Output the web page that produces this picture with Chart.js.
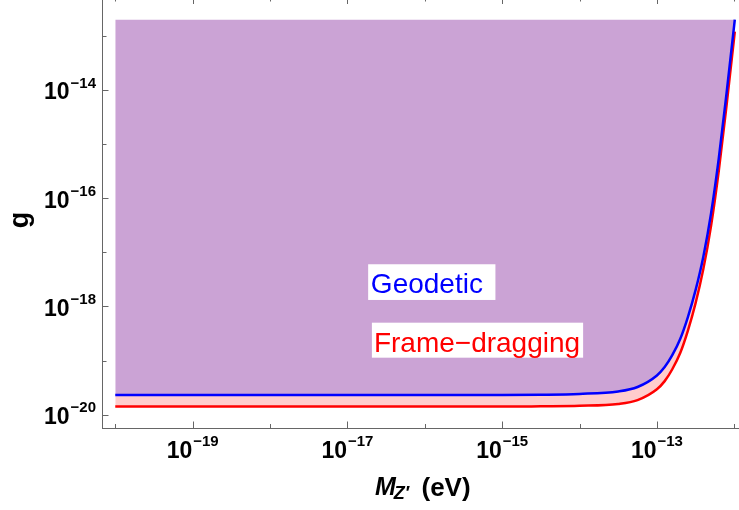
<!DOCTYPE html>
<html>
<head>
<meta charset="utf-8">
<script src="https://cdn.jsdelivr.net/npm/chart.js@4.4.1/dist/chart.umd.min.js"></script>
<style>
  html, body { margin: 0; padding: 0; background: #ffffff; }
  canvas { display: block; }
</style>
</head>
<body>
<canvas id="c" width="739" height="510"></canvas>
<script>
// Z' mass (eV) at which each bound is sampled
const massEV = [1e-20, 1e-17, 1e-15, 3.16e-15, 1e-14, 3.16e-14, 5.62e-14, 1e-13, 1.26e-13,
  1.58e-13, 2e-13, 2.51e-13, 3.16e-13, 3.98e-13, 5.01e-13, 6.31e-13, 7.94e-13, 1e-12, 1.015e-12];
// coupling bound from geodetic precession
const gGeodetic = [2.31e-20, 2.31e-20, 2.32e-20, 2.34e-20, 2.42e-20, 2.69e-20, 3.25e-20, 5.31e-20, 7.59e-20,
  1.26e-19, 2.51e-19, 6.31e-19, 2.00e-18, 8.32e-18, 5.25e-17, 5.50e-16, 8.71e-15, 1.63e-13, 2e-13];
// coupling bound from frame dragging
const gFrameDragging = [1.41e-20, 1.41e-20, 1.41e-20, 1.43e-20, 1.46e-20, 1.58e-20, 1.86e-20, 2.95e-20, 4.17e-20,
  6.92e-20, 1.38e-19, 3.55e-19, 1.15e-18, 4.90e-18, 3.09e-17, 3.24e-16, 5.13e-15, 9.77e-14, 1.20e-13];
// upper edge of the shaded excluded region
const regionTop = 2e-13;

// tick decades (all get a mark, the listed ones get a label)
const xTickExponents = [-20, -19, -18, -17, -16, -15, -14, -13, -12];
const xLabelExponents = [-19, -17, -15, -13];
const yTickExponents = [-20, -19, -18, -17, -16, -15, -14, -13];
const yLabelExponents = [-20, -18, -16, -14];

const seriesNames = ['Geodetic', 'Frame\u2212dragging'];

const FONT = '"Liberation Sans", Arial, sans-serif';
const AXIS_COLOR = '#666666';
const BLUE = '#0000ff';
const RED = '#ff0000';
const PURPLE = '#cba3d5';
const PINK = '#ffcccc';

function toPoints(xs, ys) {
  return xs.map((x, i) => ({ x: x, y: ys[i] }));
}

function drawPower(ctx, exp, x, baseY, supY, align) {
  const baseFont = 'bold 23px ' + FONT;
  const supFont = 'bold 15px ' + FONT;
  const base = '10';
  const sup = '\u2212' + Math.abs(exp);
  ctx.font = baseFont;
  const wb = ctx.measureText(base).width;
  ctx.font = supFont;
  const ws = ctx.measureText(sup).width + 1;
  let start;
  if (align === 'center') start = x - (wb + ws) / 2;
  else start = x - (wb + ws);
  ctx.textAlign = 'left';
  ctx.textBaseline = 'alphabetic';
  ctx.font = baseFont;
  ctx.fillText(base, start, baseY);
  ctx.font = supFont;
  ctx.fillText(sup, start + wb + 1, supY);
}

const frameAndLabels = {
  id: 'frameAndLabels',
  afterDraw(chart) {
    const { ctx, chartArea: a, scales } = chart;
    const xs = scales.x, ys = scales.y;
    ctx.save();
    ctx.strokeStyle = AXIS_COLOR;
    ctx.lineWidth = 1;
    const seg = (x1, y1, x2, y2) => {
      ctx.beginPath(); ctx.moveTo(x1, y1); ctx.lineTo(x2, y2); ctx.stroke();
    };
    // inward tick marks on the bottom and top frame
    xTickExponents.forEach(k => {
      const px = Math.round(xs.getPixelForValue(Math.pow(10, k))) + 0.5;
      const len = xLabelExponents.includes(k) ? 6.5 : 4;
      seg(px, a.bottom, px, a.bottom - len);
      seg(px, a.top - 2.5, px, a.top - 2.5 + len);
    });
    // inward tick marks on the left frame
    yTickExponents.forEach(k => {
      const py = Math.round(ys.getPixelForValue(Math.pow(10, k))) + 0.5;
      const len = yLabelExponents.includes(k) ? 6 : 4;
      seg(a.left, py, a.left + len, py);
    });
    // tick labels
    ctx.fillStyle = '#000000';
    xLabelExponents.forEach(k => {
      const px = xs.getPixelForValue(Math.pow(10, k));
      drawPower(ctx, k, px, a.bottom + 29.5, a.bottom + 17.5, 'center');
    });
    yLabelExponents.forEach(k => {
      const py = ys.getPixelForValue(Math.pow(10, k));
      drawPower(ctx, k, a.left - 6.5, py + 9.3, py - 2.4, 'right');
    });
    // x axis title: M_Z' (eV)
    ctx.textAlign = 'left';
    ctx.textBaseline = 'alphabetic';
    ctx.font = 'italic bold 25px ' + FONT;
    const mStart = 375;
    ctx.fillText('M', mStart, a.bottom + 67);
    const wm = ctx.measureText('M').width;
    ctx.font = 'italic bold 18px ' + FONT;
    ctx.fillText('Z\u2032', mStart + wm - 2, a.bottom + 70.5);
    ctx.font = 'bold 26px ' + FONT;
    ctx.fillText('(eV)', 421.5, a.bottom + 67.5);
    // y axis title: g
    ctx.save();
    ctx.translate(28, (a.top + a.bottom) / 2 + 6);
    ctx.rotate(-Math.PI / 2);
    ctx.font = 'bold 27px ' + FONT;
    ctx.textAlign = 'center';
    ctx.fillText('g', 0, 0);
    ctx.restore();
    ctx.restore();
  },
  afterDatasetsDraw(chart) {
    const { ctx, scales } = chart;
    const xs = scales.x, ys = scales.y;
    const boxes = [
      { text: seriesNames[0], color: BLUE, m: 2.01e-17, g: 1.8e-18, padL: 2.7, padR: 12.5, up: 28.4, down: 7.3 },
      { text: seriesNames[1], color: RED, m: 2.2e-17, g: 1.46e-19, padL: 2, padR: 3, up: 29, down: 6 }
    ];
    ctx.save();
    ctx.font = '28px ' + FONT;
    ctx.textAlign = 'left';
    ctx.textBaseline = 'alphabetic';
    boxes.forEach(b => {
      const x = xs.getPixelForValue(b.m);
      const y = ys.getPixelForValue(b.g);
      const w = ctx.measureText(b.text).width;
      ctx.fillStyle = '#ffffff';
      ctx.fillRect(x - b.padL, y - b.up, w + b.padL + b.padR, b.up + b.down);
      ctx.fillStyle = b.color;
      ctx.fillText(b.text, x, y);
    });
    ctx.restore();
  }
};

new Chart(document.getElementById('c'), {
  type: 'line',
  data: {
    datasets: [
      {
        label: seriesNames[0],
        data: toPoints(massEV, gGeodetic),
        borderColor: BLUE,
        borderWidth: 2.5,
        pointRadius: 0,
        cubicInterpolationMode: 'monotone',
        fill: { value: regionTop },
        backgroundColor: PURPLE
      },
      {
        label: seriesNames[1],
        data: toPoints(massEV, gFrameDragging),
        borderColor: RED,
        borderWidth: 2.5,
        pointRadius: 0,
        cubicInterpolationMode: 'monotone',
        fill: 0,
        backgroundColor: PINK
      }
    ]
  },
  options: {
    responsive: false,
    animation: false,
    devicePixelRatio: 1,
    layout: { padding: 0 },
    plugins: { legend: { display: false }, tooltip: { enabled: false } },
    scales: {
      x: {
        type: 'logarithmic',
        position: 'bottom',
        min: Math.pow(10, -20.165),
        max: Math.pow(10, -11.939),
        ticks: { display: false },
        grid: { display: false, drawTicks: false },
        border: { display: true, color: AXIS_COLOR, width: 1 },
        afterFit(s) { s.height = 82; }
      },
      y: {
        type: 'logarithmic',
        position: 'left',
        min: Math.pow(10, -20.246),
        max: Math.pow(10, -12.336),
        ticks: { display: false },
        grid: { display: false, drawTicks: false },
        border: { display: true, color: AXIS_COLOR, width: 1 },
        afterFit(s) { s.width = 102.5; }
      }
    }
  },
  plugins: [frameAndLabels]
});
</script>
</body>
</html>
